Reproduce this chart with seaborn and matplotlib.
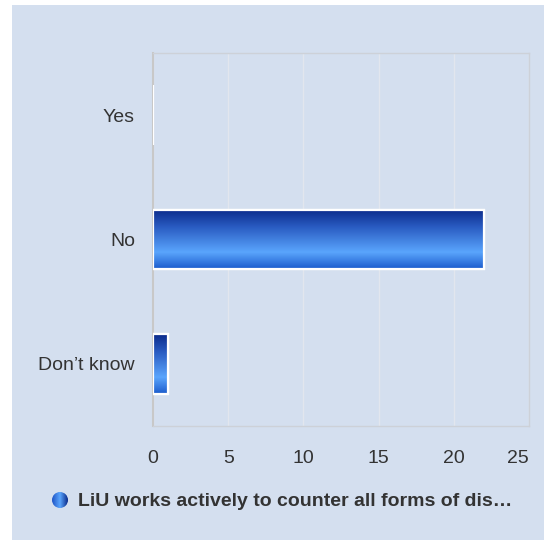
import numpy as np
import pandas as pd
import matplotlib
matplotlib.use("Agg")
import matplotlib.pyplot as plt
from matplotlib.colors import LinearSegmentedColormap
from matplotlib.patches import Rectangle, Circle
import seaborn as sns

# Survey answers
categories = ["Yes", "No", "Don\u2019t know"]
counts = [0, 22, 1]
x_ticks = [0, 5, 10, 15, 20, 25]
series_name = "LiU works actively to counter all forms of dis\u2026"

PANEL = "#d4dfef"
TEXT = "#333333"

sns.set_theme(style="white")
plt.rcParams["font.family"] = ["Liberation Sans", "DejaVu Sans"]

df = pd.DataFrame({"answer": categories, "count": counts})

fig = plt.figure(figsize=(5.44, 5.40), dpi=100)
fig.patch.set_facecolor("white")
# light blue chart panel behind everything
fig.patches.append(Rectangle((12 / 544, 0), 1 - 12 / 544, 1 - 5 / 540,
                             transform=fig.transFigure, facecolor=PANEL,
                             edgecolor="none", zorder=-10))

ax = fig.add_axes([153 / 544, 114 / 540, 376 / 544, 373 / 540])
ax.set_facecolor(PANEL)

sns.barplot(data=df, x="count", y="answer", orient="h", ax=ax,
            width=0.48, color="#2f6fd8", edgecolor="white", linewidth=1.6,
            zorder=3)

ax.set_xlim(0, 25)
ax.set_xticks(x_ticks)
ax.set_xlabel("")
ax.set_ylabel("")
ylim = ax.get_ylim()

# vertical gradient fill for each bar
grad = LinearSegmentedColormap.from_list(
    "bar", [(0.0, "#0a2a8a"), (0.3, "#2a5cc2"), (0.72, "#5aa5fd"), (1.0, "#1b5bcb")])
g = np.linspace(0, 1, 256).reshape(-1, 1)
for p in ax.patches:
    x0, y0 = p.get_x(), p.get_y()
    w, h = p.get_width(), p.get_height()
    if w <= 0:
        continue
    im = ax.imshow(g, cmap=grad, aspect="auto", origin="upper",
                   extent=(x0, x0 + w, y0 + h, y0), zorder=3.5,
                   interpolation="bilinear")
    im.set_clip_path(p)
    # redraw white outline on top
    ax.add_patch(Rectangle((x0, y0), w, h, facecolor="none",
                           edgecolor="white", linewidth=1.6, zorder=4))

ax.set_xlim(0, 25)
ax.set_ylim(ylim)

ax.grid(axis="x", color="#e2e6ee", linewidth=1.0, zorder=0)
ax.grid(axis="y", visible=False)
for s in ax.spines.values():
    s.set_visible(True)
    s.set_color("#cdd1d8")
    s.set_linewidth(1.0)
ax.spines["left"].set_color("#c8c8c8")
ax.spines["left"].set_linewidth(1.5)

ax.tick_params(axis="y", length=0, pad=13, labelsize=14, labelcolor=TEXT)
ax.tick_params(axis="x", length=0, pad=17, labelsize=14, labelcolor=TEXT)
# keep the last tick label inside the plot edge
fig.canvas.draw()
ax.get_xticklabels()[-1].set_ha("right")

# legend: gradient dot and series name
lax = fig.add_axes([52 / 544, (540 - 508) / 540, 16 / 544, 16 / 540])
lax.set_xlim(0, 1)
lax.set_ylim(0, 1)
lax.axis("off")
hgrad = LinearSegmentedColormap.from_list(
    "dot", [(0.0, "#1f55c6"), (0.5, "#5aa5fd"), (1.0, "#0a2a8a")])
dot = lax.imshow(np.linspace(0, 1, 64).reshape(1, -1), cmap=hgrad,
                 extent=(0, 1, 0, 1), aspect="auto", interpolation="bilinear")
circ = Circle((0.5, 0.5), 0.5, transform=lax.transData, facecolor="none",
              edgecolor="none")
lax.add_patch(circ)
dot.set_clip_path(circ)

fig.text(78 / 544, 1 - 502 / 540, series_name, ha="left", va="center",
         fontsize=14, fontweight="bold", color=TEXT)

fig.savefig("out.png", dpi=100, facecolor="white")
